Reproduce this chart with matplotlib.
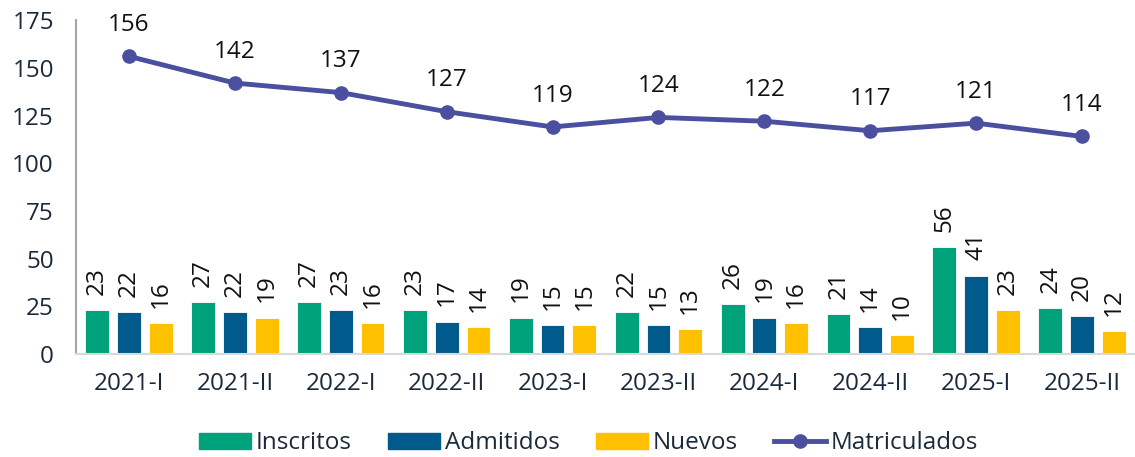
import matplotlib
matplotlib.use("Agg")
import matplotlib.pyplot as plt
import numpy as np
from matplotlib.lines import Line2D
from matplotlib.patches import Patch

plt.rcParams['font.family'] = ['Open Sans', 'DejaVu Sans']

periods = ["2021-I", "2021-II", "2022-I", "2022-II", "2023-I", "2023-II",
           "2024-I", "2024-II", "2025-I", "2025-II"]
inscritos = [23, 27, 27, 23, 19, 22, 26, 21, 56, 24]
admitidos = [22, 22, 23, 17, 15, 15, 19, 14, 41, 20]
nuevos = [16, 19, 16, 14, 15, 13, 16, 10, 23, 12]
matriculados = [156, 142, 137, 127, 119, 124, 122, 117, 121, 114]
yticks = [0, 25, 50, 75, 100, 125, 150, 175]

c_ins = "#00A27C"
c_adm = "#005A8C"
c_nue = "#FFC000"
c_mat = "#4A4F9F"
txt = "#1B2A3A"
fs = 17.5

fig = plt.figure(figsize=(11.35, 4.57), dpi=100)
ax = fig.add_axes([0.067, 0.2254, 0.933, 0.7306])

x = np.arange(len(periods))
w = 0.225
off = 0.30
series = [(inscritos, c_ins, -off), (admitidos, c_adm, 0), (nuevos, c_nue, off)]
for vals, col, o in series:
    ax.bar(x + o, vals, width=w, color=col, edgecolor="white", linewidth=0.6, zorder=2)
    for xi, v in zip(x + o, vals):
        ax.annotate(str(v), (xi, v), xytext=(0, 11), textcoords="offset points",
                    rotation=90, ha="center", va="bottom", fontsize=fs, color="#111111")

ax.plot(x, matriculados, color=c_mat, linewidth=3.5, marker="o", markersize=9.5, zorder=3)
for xi, v in zip(x, matriculados):
    ax.annotate(str(v), (xi, v), xytext=(0, 14), textcoords="offset points",
                ha="center", va="bottom", fontsize=fs, color="#111111")

ax.set_xlim(-0.5, 9.5)
ax.set_ylim(0, 175)
ax.set_yticks(yticks)
ax.set_yticklabels([str(t) for t in yticks])
ax.set_xticks(x)
ax.set_xticklabels(periods)
ax.tick_params(axis="both", length=0, labelsize=fs, labelcolor=txt)
ax.tick_params(axis="y", pad=16)
ax.tick_params(axis="x", pad=13)
for s in ["top", "right"]:
    ax.spines[s].set_visible(False)
ax.spines["left"].set_color("#A6A6A6")
ax.spines["left"].set_linewidth(1.5)
ax.spines["bottom"].set_color("#D9D9D9")
ax.spines["bottom"].set_linewidth(1.5)

handles = [Patch(color=c_ins, label="Inscritos"),
           Patch(color=c_adm, label="Admitidos"),
           Patch(color=c_nue, label="Nuevos"),
           Line2D([0], [0], color=c_mat, linewidth=3.5, marker="o", markersize=9.5, label="Matriculados")]
fig.legend(handles=handles, loc="center", bbox_to_anchor=(0.5185, 0.03), ncol=4,
           frameon=False, fontsize=fs, handlelength=2.14, handleheight=0.62,
           handletextpad=0.2, columnspacing=1.48, labelcolor=txt)

fig.savefig("out.png", dpi=100)
